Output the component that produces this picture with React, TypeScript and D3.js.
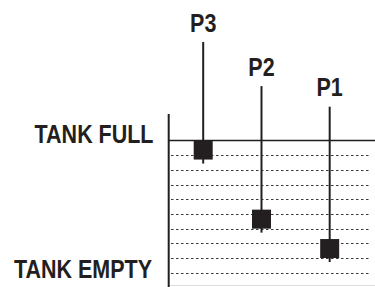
import * as d3 from 'd3';
import * as React from 'react';

const { useRef, useEffect } = React;

const width = 375;
const height = 287;

// probes, left to right in the picture is P3, P2, P1
const probes = ['P1', 'P2', 'P3'];
const probePos = [0.78, 0.449, 0.166]; // across the tank, 0 = wall, 1 = right edge
const probeLevel = [2.65, 4.65, 9.35]; // centre of the float, in level units
const probeTop = [12.3, 13.7, 16.7]; // top of the rod, in level units

const fullLevel = 10;
const dashLevels = [1, 2, 3, 4, 5, 6, 7, 8, 9];
const sideLabels = ['TANK FULL', 'TANK EMPTY'];

export default () => {
  const rootRef = useRef<SVGSVGElement>(null);

  useEffect(() => {
    const svg = d3.select(rootRef.current);
    svg.selectAll('*').remove();

    const y = d3.scaleLinear().domain([0, fullLevel]).range([287.5, 140.5]);
    const x = d3.scaleLinear().domain([0, 1]).range([169, 375]);
    const box = 19;
    const ink = '#231f20';
    const font = 'Liberation Sans, Arial, sans-serif';

    // dashed level lines
    svg
      .append('g')
      .selectAll('line')
      .data(dashLevels)
      .join('line')
      .attr('x1', x(0) + 2)
      .attr('x2', x(0.975))
      .attr('y1', d => Math.round(y(d)) + 0.5)
      .attr('y2', d => Math.round(y(d)) + 0.5)
      .attr('stroke', '#3a3a3a')
      .attr('stroke-width', 1.2)
      .attr('stroke-dasharray', '2.5,2.5');

    // faint tank bottom
    svg
      .append('line')
      .attr('x1', x(0))
      .attr('x2', width)
      .attr('y1', 285.5)
      .attr('y2', 285.5)
      .attr('stroke', '#ddd');

    // full line
    svg
      .append('line')
      .attr('x1', x(0))
      .attr('x2', width)
      .attr('y1', y(fullLevel))
      .attr('y2', y(fullLevel))
      .attr('stroke', ink)
      .attr('stroke-width', 1.3);

    // tank wall
    svg
      .append('line')
      .attr('x1', x(0) - 0.3)
      .attr('x2', x(0) - 0.3)
      .attr('y1', 114)
      .attr('y2', height)
      .attr('stroke', ink)
      .attr('stroke-width', 2);

    const g = svg
      .append('g')
      .selectAll('g')
      .data(probes)
      .join('g');

    g.append('line')
      .attr('x1', (d, i) => x(probePos[i]))
      .attr('x2', (d, i) => x(probePos[i]))
      .attr('y1', (d, i) => y(probeTop[i]))
      .attr('y2', (d, i) => y(probeLevel[i]) + box / 2 + 4)
      .attr('stroke', ink)
      .attr('stroke-width', 2);

    g.append('rect')
      .attr('x', (d, i) => x(probePos[i]) - box / 2)
      .attr('y', (d, i) => y(probeLevel[i]) - box / 2)
      .attr('width', box)
      .attr('height', box)
      .attr('fill', ink);

    g.append('text')
      .attr(
        'transform',
        (d, i) => `translate(${x(probePos[i])},${y(probeTop[i]) - 10.5}) scale(0.86,1)`,
      )
      .attr('text-anchor', 'middle')
      .attr('font-family', font)
      .attr('font-weight', 'bold')
      .attr('font-size', 25)
      .attr('fill', ink)
      .text(d => d);

    svg
      .append('g')
      .selectAll('text')
      .data(sideLabels)
      .join('text')
      .attr(
        'transform',
        (d, i) => `translate(${i === 0 ? 153.5 : 152},${i === 0 ? y(fullLevel) + 2 : 277.5}) scale(0.86,1)`,
      )
      .attr('text-anchor', 'end')
      .attr('font-family', font)
      .attr('font-weight', 'bold')
      .attr('font-size', 25)
      .attr('fill', ink)
      .text(d => d);
  }, []);

  return (
    <svg
      ref={rootRef}
      width={width}
      height={height}
      style={{ position: 'absolute', left: 0, top: 0, background: '#fff' }}
    />
  );
};
